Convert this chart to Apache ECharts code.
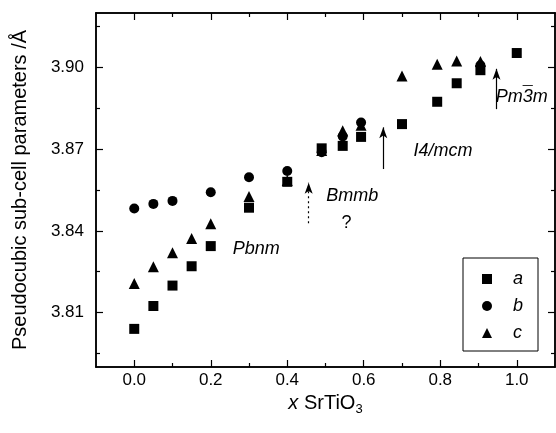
<!DOCTYPE html>
<html><head><meta charset="utf-8">
<script src="https://cdn.jsdelivr.net/npm/echarts@6/dist/echarts.min.js"></script>
<style>html,body{margin:0;padding:0;background:#fff}#c{width:556px;height:433px}</style>
</head><body><div id="c"></div>
<script>
// ---- data ----
const xA = [0, 0.05, 0.1, 0.15, 0.2, 0.3, 0.4, 0.49, 0.545, 0.593, 0.7, 0.792, 0.843, 0.905, 1.0];
const aVals = [3.804, 3.8124, 3.8199, 3.827, 3.8344, 3.8485, 3.858, 3.8703, 3.8712, 3.8745, 3.8792, 3.8874, 3.8942, 3.8990, 3.9053];
const xB = [0, 0.05, 0.1, 0.2, 0.3, 0.4, 0.49, 0.545, 0.593, 0.905];
const bVals = [3.8482, 3.8499, 3.851, 3.8542, 3.8597, 3.862, 3.8689, 3.8747, 3.8798, 3.9008];
const xC = [0, 0.05, 0.1, 0.15, 0.2, 0.3, 0.4, 0.49, 0.545, 0.593, 0.7, 0.792, 0.843, 0.905];
const cVals = [3.8207, 3.8268, 3.832, 3.8372, 3.8426, 3.8526, 3.8585, 3.8695, 3.8768, 3.8788, 3.8969, 3.9012, 3.9024, 3.9022];
const xMajorTicks = [0, 0.2, 0.4, 0.6, 0.8, 1.0];
const xMinorTicks = [0.1, 0.3, 0.5, 0.7, 0.9];
const yMajorTicks = [3.81, 3.84, 3.87, 3.90];
const yMinorTicks = [3.795, 3.825, 3.855, 3.885, 3.915];
const arrowX = [0.456, 0.651, 0.947];
const arrowFrom = [3.8428, 3.8627, 3.8847];
const arrowTo = [3.8577, 3.878, 3.8995];
const arrowDotted = [true, false, false];
const noteText = ['Pbnm', 'Bmmb', '?', 'I4/mcm', 'Pm3m', '\u00AF'];
const noteX = [0.319, 0.570, 0.555, 0.807, 1.013, 1.029];
const noteY = [3.8335, 3.8528, 3.843, 3.8693, 3.8891, 3.8901];
const noteItalic = [true, true, false, true, true, false];

const FONT = "'Liberation Sans', Arial, sans-serif";
const pair = (xs, ys) => xs.map((x, i) => [x, ys[i]]);

function xAxisDef(pos, ticks, len, labels) {
  return {
    type: 'value', min: -0.1, max: 1.1, position: pos,
    axisLine: { show: true, onZero: false, lineStyle: { color: '#000', width: 1.5 } },
    axisTick: { show: true, inside: true, length: len, customValues: ticks, lineStyle: { color: '#000', width: 1.2 } },
    axisLabel: labels ? { show: true, customValues: ticks, formatter: v => v.toFixed(1), color: '#000', fontSize: 17, fontFamily: FONT, margin: 5 } : { show: false },
    splitLine: { show: false }
  };
}
function yAxisDef(pos, ticks, len, labels) {
  return {
    type: 'value', min: 3.79, max: 3.92, position: pos,
    axisLine: { show: true, onZero: false, lineStyle: { color: '#000', width: 1.5 } },
    axisTick: { show: true, inside: true, length: len, customValues: ticks, lineStyle: { color: '#000', width: 1.2 } },
    axisLabel: labels ? { show: true, customValues: ticks, formatter: v => v.toFixed(2), color: '#000', fontSize: 17, fontFamily: FONT, margin: 12 } : { show: false },
    splitLine: { show: false }
  };
}

const xAxes = [
  xAxisDef('bottom', xMajorTicks, 7, true),
  xAxisDef('bottom', xMinorTicks, 4, false),
  xAxisDef('top', xMajorTicks, 7, false),
  xAxisDef('top', xMinorTicks, 4, false)
];
Object.assign(xAxes[0], {
  name: '{i|x} SrTiO{s|3}', nameLocation: 'middle', nameGap: 15,
  nameTextStyle: { color: '#000', fontSize: 20, fontFamily: FONT,
    rich: { i: { fontStyle: 'italic', fontSize: 20, fontFamily: FONT, color: '#000' },
            s: { fontSize: 13, fontFamily: FONT, color: '#000', verticalAlign: 'bottom', padding: [12, 0, 0, 0] } } }
});
const yAxes = [
  yAxisDef('left', yMajorTicks, 7, true),
  yAxisDef('left', yMinorTicks, 4, false),
  yAxisDef('right', yMajorTicks, 7, false),
  yAxisDef('right', yMinorTicks, 4, false)
];
Object.assign(yAxes[0], {
  name: 'Pseudocubic sub-cell parameters /Å', nameLocation: 'middle', nameGap: 66,
  nameTextStyle: { color: '#000', fontSize: 20, fontFamily: FONT }
});

const arrowLines = arrowX.map((x, i) => [
  { coord: [x, arrowFrom[i]], lineStyle: { type: arrowDotted[i] ? [2, 3] : 'solid', color: '#000', width: 1.2 } },
  { coord: [x, arrowTo[i]] }
]);

const option = {
  animation: false,
  backgroundColor: '#fff',
  grid: { left: 96, right: 1, top: 13, bottom: 66, containLabel: false },
  xAxis: xAxes,
  yAxis: yAxes,
  legend: {
    orient: 'vertical', left: 463, top: 258,
    data: ['a', 'b', 'c'],
    borderColor: '#000', borderWidth: 1, padding: [12, 15, 9, 19],
    itemWidth: 10, itemHeight: 10, itemGap: 9,
    textStyle: { fontStyle: 'italic', fontSize: 18, fontFamily: FONT, color: '#000', padding: [0, 0, 0, 16], lineHeight: 16 }
  },
  series: [
    { name: 'a', type: 'scatter', symbol: 'rect', symbolSize: 10, itemStyle: { color: '#000', opacity: 1 }, data: pair(xA, aVals), z: 3 },
    { name: 'b', type: 'scatter', symbol: 'circle', symbolSize: 10, itemStyle: { color: '#000', opacity: 1 }, data: pair(xB, bVals), z: 3 },
    { name: 'c', type: 'scatter', symbol: 'triangle', symbolSize: 11, itemStyle: { color: '#000', opacity: 1 }, data: pair(xC, cVals), z: 3 },
    {
      name: 'notes', type: 'scatter', symbol: 'circle', symbolSize: 0, silent: true,
      itemStyle: { color: '#000', opacity: 1 },
      data: noteX.map((x, i) => ({
        value: [x, noteY[i]],
        label: { show: true, position: 'inside', formatter: noteText[i], fontStyle: noteItalic[i] ? 'italic' : 'normal',
                 fontSize: 18, fontFamily: FONT, color: '#000', opacity: 1 }
      })),
      markLine: {
        silent: true, symbol: ['none', 'arrow'], symbolSize: [6, 11], label: { show: false },
        lineStyle: { color: '#000', width: 1.2 },
        data: arrowLines
      }
    }
  ]
};
const chart = echarts.init(document.getElementById('c'), null, { renderer: 'canvas' });
chart.setOption(option);
</script>
</body></html>
